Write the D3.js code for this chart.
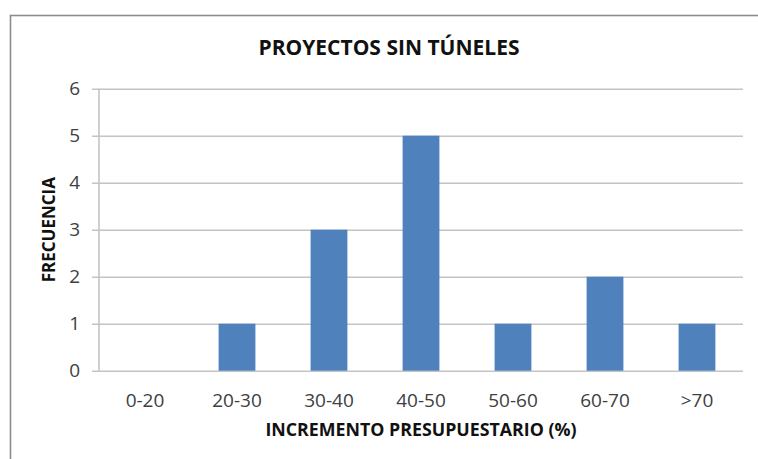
<!DOCTYPE html>
<html>
<head>
<meta charset="utf-8">
<script src="https://cdn.jsdelivr.net/npm/d3@7"></script>
<style>
  body { margin: 0; background: #fff; }
  svg { display: block; }
</style>
</head>
<body>
<svg width="758" height="459"></svg>
<script>
// datos del histograma
const categories = ["0-20", "20-30", "30-40", "40-50", "50-60", "60-70", ">70"];
const frequencies = [0, 1, 3, 5, 1, 2, 1];
const yTicks = [0, 1, 2, 3, 4, 5, 6];

const chartTitle = "PROYECTOS SIN TÚNELES";
const xTitle = "INCREMENTO PRESUPUESTARIO (%)";
const yTitle = "FRECUENCIA";

const svg = d3.select("svg");
const font = "'Open Sans', 'DejaVu Sans', sans-serif";

// area de trazado
const area = { left: 99, right: 743, top: 88.7, bottom: 370.7 };

// marco del grafico (cortado a la derecha y abajo)
svg.append("rect")
    .attr("x", 10.5).attr("y", 15.5)
    .attr("width", 800).attr("height", 500)
    .attr("fill", "none")
    .attr("stroke", "#8c8c8c")
    .attr("stroke-width", 1.6);

let scaleX = d3.scaleBand()
    .domain(categories)
    .range([area.left, area.right])
    .paddingInner(0.6)
    .paddingOuter(0.3);

let scaleY = d3.scaleLinear()
    .domain([0, 6])
    .range([area.bottom, area.top]);

// eje Y con lineas de cuadricula
let gy = svg.append("g")
    .attr("transform", `translate(${area.left - 7}, 0)`)
    .call(d3.axisLeft(scaleY)
        .tickValues(yTicks)
        .tickFormat(d3.format("d"))
        .tickSize(-(area.right - area.left + 7))
        .tickPadding(12));
gy.select(".domain").remove();
gy.selectAll("line").attr("stroke", "#c4c4c4").attr("stroke-width", 1.6);
gy.selectAll("text")
    .attr("fill", "#404040")
    .style("font-family", font)
    .style("font-size", "19px");

// linea vertical del eje
svg.append("line")
    .attr("x1", area.left).attr("x2", area.left)
    .attr("y1", area.top).attr("y2", area.bottom)
    .attr("stroke", "#c4c4c4").attr("stroke-width", 1.6);

// barras
svg.selectAll(".bar")
    .data(categories)
    .enter()
    .append("rect")
    .attr("class", "bar")
    .attr("x", d => scaleX(d))
    .attr("width", scaleX.bandwidth())
    .attr("y", (d, i) => scaleY(frequencies[i]))
    .attr("height", (d, i) => scaleY(0) - scaleY(frequencies[i]))
    .attr("fill", "#4f81bd");

// eje X
let gx = svg.append("g")
    .attr("transform", `translate(0, ${area.bottom})`)
    .call(d3.axisBottom(scaleX).tickSize(0).tickPadding(23));
gx.select(".domain").remove();
gx.selectAll("text")
    .attr("fill", "#404040")
    .style("font-family", font)
    .style("font-size", "19px");

// titulos
svg.append("text")
    .attr("x", 389).attr("y", 55)
    .attr("text-anchor", "middle")
    .style("font-family", font)
    .style("font-size", "21px")
    .style("font-weight", "bold")
    .attr("fill", "#111")
    .text(chartTitle);

svg.append("text")
    .attr("x", (area.left + area.right) / 2).attr("y", 436)
    .attr("text-anchor", "middle")
    .style("font-family", font)
    .style("font-size", "17.8px")
    .style("font-weight", "bold")
    .attr("fill", "#111")
    .text(xTitle);

svg.append("text")
    .attr("transform", `translate(55, ${(area.top + area.bottom) / 2}) rotate(-90)`)
    .attr("text-anchor", "middle")
    .style("font-family", font)
    .style("font-size", "17px")
    .style("font-weight", "bold")
    .attr("fill", "#111")
    .text(yTitle);
</script>
</body>
</html>
